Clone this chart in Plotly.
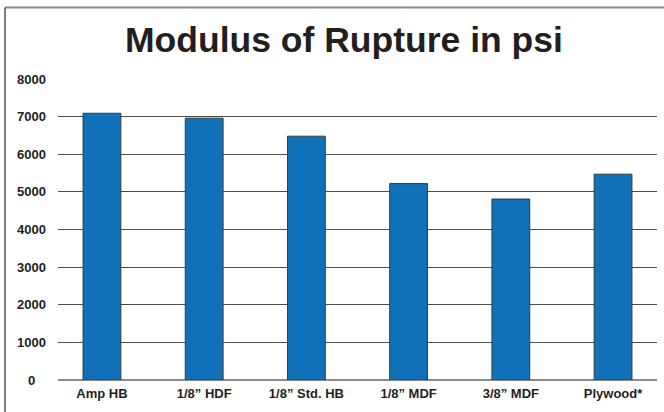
import plotly.graph_objects as go

categories = ["Amp HB", "1/8\u201d HDF", "1/8\u201d Std. HB", "1/8\u201d MDF", "3/8\u201d MDF", "Plywood*"]
modulus_psi = [7090, 6960, 6480, 5220, 4810, 5470]
y_ticks = [0, 1000, 2000, 3000, 4000, 5000, 6000, 7000, 8000]

BAR_COLOR = "#1070b8"
TEXT_COLOR = "#231f20"
FONT = "Liberation Sans, Arial, sans-serif"

fig = go.Figure()

fig.add_trace(
    go.Bar(
        x=categories,
        y=modulus_psi,
        width=0.37,
        marker=dict(color=BAR_COLOR, line=dict(color="#3a3a3a", width=1)),
        showlegend=False,
    )
)

# y labels are centred in the source, so draw them as annotations
for v in y_ticks:
    fig.add_annotation(
        x=-0.0445,
        y=v,
        xref="paper",
        yref="y",
        text=f"<b>{v}</b>",
        showarrow=False,
        xanchor="center",
        yanchor="middle",
        font=dict(family=FONT, size=13, color=TEXT_COLOR),
    )

# frame lines on the top and left edges
fig.add_shape(type="line", xref="paper", yref="paper", x0=-0.0885, x1=1.02,
              y0=1.2375, y1=1.2375, line=dict(color="#8a8a8a", width=2))
fig.add_shape(type="line", xref="paper", yref="paper", x0=-0.0885, x1=-0.0885,
              y0=1.2375, y1=-0.12, line=dict(color="#555555", width=1.5))

fig.update_layout(
    title=dict(
        text="<b>Modulus of Rupture in psi</b>",
        x=0.518,
        xanchor="center",
        y=0.904,
        yanchor="middle",
        font=dict(family=FONT, size=35.5, color=TEXT_COLOR),
    ),
    width=664,
    height=412,
    margin=dict(l=58, r=7, t=79, b=32),
    plot_bgcolor="white",
    paper_bgcolor="white",
    bargap=0.63,
)

fig.update_xaxes(
    range=[-0.43, 5.43],
    showgrid=False,
    showline=False,
    ticks="",
    ticklabelstandoff=4,
    tickfont=dict(family=FONT, size=13, color=TEXT_COLOR),
    ticktext=[f"<b>{c}</b>" for c in categories],
    tickvals=categories,
)

fig.update_yaxes(
    range=[0, 8000],
    tickvals=y_ticks,
    showticklabels=False,
    showgrid=True,
    gridcolor="#4d4d4d",
    gridwidth=1,
    zeroline=True,
    zerolinecolor="#8a8a8a",
    zerolinewidth=1.5,
    showline=False,
)

# drop the default body margin so the 664x412 figure sits at the page origin
fig.write_html(
    "out.html",
    config={"displayModeBar": False},
    post_script="document.body.style.margin='0';",
)
